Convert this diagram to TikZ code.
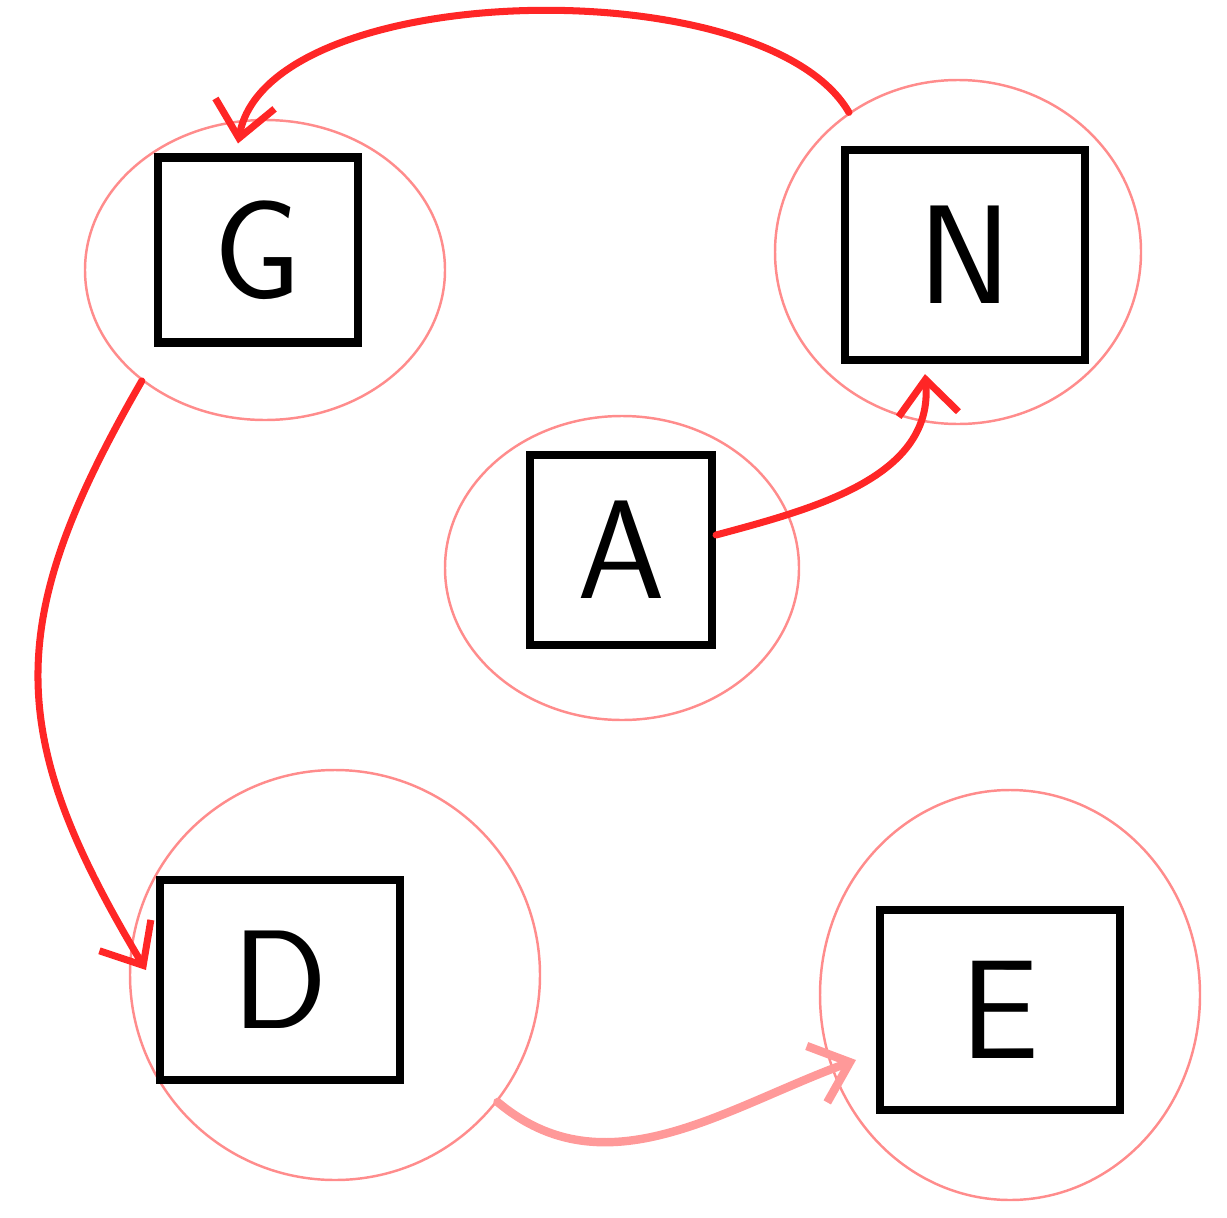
\documentclass[tikz,border=0pt]{standalone}
\usepackage{tikz}
\usetikzlibrary{arrows.meta,shapes.geometric}
\tikzset{letterbox/.style={draw,line width=2.3pt,inner sep=0pt,font=\sffamily\fontsize{40}{48}\selectfont}}
\begin{document}
\begin{tikzpicture}[>={Straight Barb[length=3.5mm,width=6mm]},line cap=round,
  ring/.style={draw=red!45,ellipse,line width=0.7pt,inner sep=0pt},
  link/.style={->,red!85!white,line width=2pt},
  softlink/.style={->,red!40,line width=2.4pt}]
\useasboundingbox (0,0) rectangle (12.27,12.17);
% --- rings round the letters
\node[ring,minimum width=3.6cm,minimum height=3.0cm] (Gring) at (2.65,9.47) {};
\node[ring,minimum width=3.66cm,minimum height=3.44cm] (Nring) at (9.58,9.65) {};
\node[ring,minimum width=3.54cm,minimum height=3.04cm] (Aring) at (6.22,6.49) {};
\node[ring,minimum width=4.1cm,minimum height=4.1cm] (Dring) at (3.35,2.42) {};
\node[ring,minimum width=3.8cm,minimum height=4.1cm] (Ering) at (10.1,2.22) {};
% --- boxes
\node[letterbox,minimum width=2.0cm,minimum height=1.85cm] (G) at (2.58,9.67) {G};
\node[letterbox,minimum width=2.4cm,minimum height=2.1cm] (N) at (9.65,9.62) {N};
\node[letterbox,minimum width=1.82cm,minimum height=1.9cm] (A) at (6.21,6.67) {A};
\node[letterbox,minimum width=2.4cm,minimum height=2.0cm] (D) at (2.80,2.37) {D};
\node[letterbox,minimum width=2.4cm,minimum height=2.0cm] (E) at (10.0,2.07) {E};
% --- arrows
\draw[link] (Nring.128) to[out=120,in=80,looseness=0.7] ([xshift=-2mm,yshift=1mm]G.north);
\draw[link] ([yshift=1.5mm]A.east) to[out=15,in=-85] ([xshift=-4mm,yshift=-1mm]N.south);
\draw[link] (Gring.222) to[out=240,in=121,looseness=1.2] ([xshift=-1mm,yshift=1mm]D.west);
\draw[softlink] (Dring.-38) to[out=-40,in=200] ([xshift=-2mm,yshift=-5mm]E.west);
\end{tikzpicture}
\end{document}
